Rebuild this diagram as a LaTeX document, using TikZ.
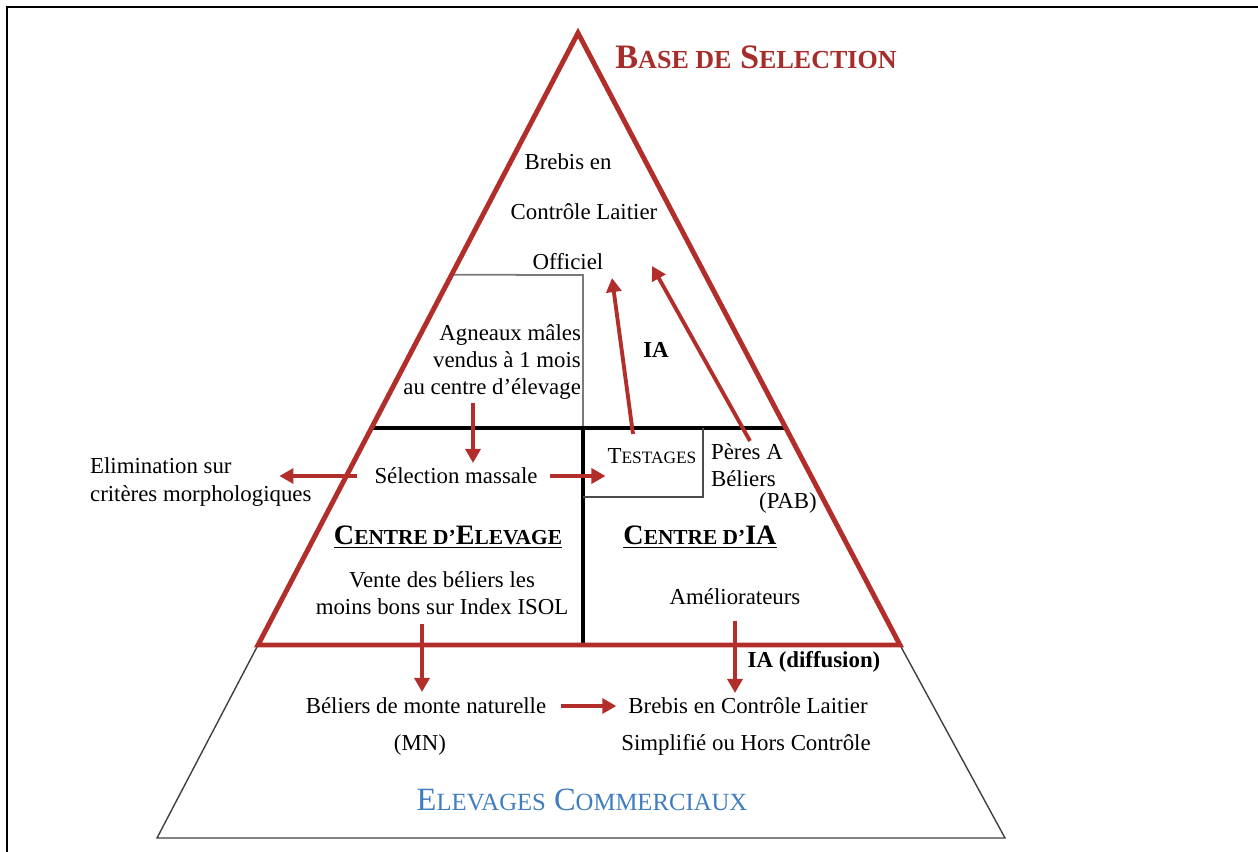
\documentclass[tikz,border=0pt]{standalone}
\usepackage{fontspec}
\setmainfont{Liberation Serif}
\usepackage{tikz}
\usetikzlibrary{arrows.meta,calc}
\definecolor{pyrRed}{HTML}{B22E2A}
\definecolor{pyrTitle}{HTML}{A52D2A}
\definecolor{pyrBlue}{HTML}{3F7CC0}
\definecolor{pyrGray}{HTML}{7A7A7A}
% fake small caps: lower part of a word in smaller capitals
\newcommand{\smc}[1]{{\fontsize{0.76em}{1em}\selectfont #1}}

\begin{document}
\begin{tikzpicture}[x=0.02cm, y=-0.02cm, font=\fontsize{13}{15.5}\selectfont,
  every node/.style={inner sep=1pt},
  redtri/.style={draw=pyrRed, line width=2.8pt, line join=miter},
  thinline/.style={draw=black!75, line width=0.8pt},
  sepline/.style={draw=black, line width=2pt},
  boxline/.style={draw=pyrGray, line width=1pt},
  flow/.style={-{Triangle[length=8pt,width=8.5pt]}, draw=pyrRed, line width=2.2pt},
  lbl/.style={align=center}]
\useasboundingbox (0,0) rectangle (1258,852);
% frame
\draw[line width=1.6pt] (7,852) -- (7,7) -- (1258,7);
% corners of the pyramid
\coordinate (apex) at (578,33);
\coordinate (bl) at (258,645);
\coordinate (br) at (900,645);
\coordinate (ol) at (157,838);
\coordinate (or) at (1005,838);
\path (apex) -- (bl) coordinate[pos=0.645] (ml) coordinate[pos=0.395] (gl);
\path (apex) -- (br) coordinate[pos=0.645] (mr);
% commercial base
\draw[thinline] (bl) -- (ol) -- (or) -- (br);
% partitions
\draw[boxline] (gl) -- (583,275) -- (583,428);
\draw[sepline] (ml) -- (mr);
\draw[sepline] (583,428) -- (583,645);
\draw[boxline, draw=black!70] (583,497) -- (703,497) -- (703,428);
\draw[redtri] (apex) -- (bl) -- (br) -- cycle;

% texts
\node[text=pyrTitle, font=\bfseries\fontsize{19.5}{22}\selectfont] (base) at (756,57)
  {B\smc{ASE DE} S\smc{ELECTION}};
\node[lbl] (bclo1) at (568,162) {Brebis en};
\node[lbl] (bclo2) at (584,212) {Contrôle Laitier};
\node[lbl] (bclo3) at (568,262) {Officiel};
\node[align=right, anchor=east] (agn) at (583,362)
  {Agneaux mâles\\vendus à 1 mois\\au centre d’élevage};
\node[font=\bfseries\fontsize{13}{15.5}\selectfont] (ia) at (656,350) {IA};
\node (sel) at (456,476) {Sélection massale};
\node[align=left, anchor=west] (elim) at (88,482)
  {Elimination sur\\critères morphologiques};
\node (test) at (652,456) {T\smc{ESTAGES}};
\node[align=left, anchor=west] (pab) at (709,465) {Pères A\\Béliers};
\node (pabtag) at (788,503) {(PAB)};
\node[font=\bfseries\fontsize{16}{18}\selectfont] (celev) at (448,537)
  {\underline{C\smc{ENTRE D’}E\smc{LEVAGE}}};
\node[font=\bfseries\fontsize{16}{18}\selectfont] (cia) at (700,537)
  {\underline{C\smc{ENTRE D’}IA}};
\node[lbl] (vente) at (442,593) {Vente des béliers les\\moins bons sur Index ISOL};
\node (amel) at (735,597) {Améliorateurs};
\node[font=\bfseries\fontsize{13}{15.5}\selectfont] (iadif) at (814,662) {IA (diffusion)};
\node (bmn) at (426,706) {Béliers de monte naturelle};
\node (mn) at (420,745) {(MN)};
\node[lbl] (bcls1) at (748,706) {Brebis en Contrôle Laitier};
\node[lbl] (bcls2) at (746,745) {Simplifié ou Hors Contrôle};
\node[text=pyrBlue, font=\fontsize{18.5}{21}\selectfont] (ecom) at (582,800)
  {E\smc{LEVAGES} C\smc{OMMERCIAUX}};

% arrow ends
\coordinate (agnOut) at (473,403);
\coordinate (selIn) at (473,463);
\coordinate (testOut) at (633,434);
\coordinate (offA) at (612,278);
\coordinate (pabOut) at (750,441);
\coordinate (offB) at (652,266);
\coordinate (venteOut) at (422,624);
\coordinate (bmnIn) at (422,692);
\coordinate (amelOut) at (735,621);
\coordinate (bclsIn) at (735,693);

% flows
\draw[flow] (agnOut) -- (selIn);
\draw[flow] ([xshift=-0.3cm]sel.west) -- ++(-78,0);
\draw[flow] ([xshift=0.2cm]sel.east) -- (sel.east -| test.west);
\draw[flow] (testOut) -- (offA);
\draw[flow] (pabOut) -- (offB);
\draw[flow] (venteOut) -- (bmnIn);
\draw[flow] (amelOut) -- (bclsIn);
\draw[flow, shorten <=0.25cm, shorten >=0.2cm] (bmn.east) -- (bmn.east -| bcls1.west);
\end{tikzpicture}
\end{document}
